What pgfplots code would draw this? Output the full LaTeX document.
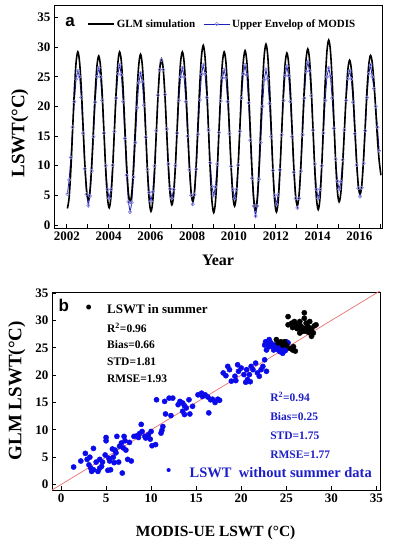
\documentclass[border=0pt]{standalone}
\usepackage{fontspec}
\setmainfont{Liberation Serif}
\newfontfamily\arialfont{Liberation Sans}
\usepackage{pgfplots}
\usepackage{pgfplotstable}
\pgfplotsset{compat=1.18}
\definecolor{modisline}{RGB}{30,30,190}
\definecolor{modismark}{RGB}{140,140,225}
\definecolor{dotblue}{RGB}{10,10,235}
\definecolor{txtblue}{RGB}{30,30,200}
\definecolor{oneline}{RGB}{235,110,110}

\pgfplotstableread{
i glm modis
0 2.8 5.2
1 4.6 7.6
2 9.4 11.4
3 16.0 16.5
4 22.6 20.8
5 27.4 24.6
6 29.2 26.0
7 27.5 25.0
8 23.0 21.5
9 16.8 15.5
10 10.5 9.5
11 6.0 5.2
12 4.3 3.3
13 5.9 4.9
14 10.4 9.1
15 16.4 14.9
16 22.5 20.7
17 26.9 25.0
18 28.5 26.5
19 26.8 25.0
20 22.1 21.0
21 15.7 15.5
22 9.3 10.0
23 4.6 6.0
24 2.9 4.5
25 4.7 6.0
26 9.5 10.1
27 16.1 15.8
28 22.6 21.4
29 27.4 25.5
30 29.2 27.0
31 27.5 25.3
32 22.9 20.8
33 16.5 14.6
34 10.2 8.4
35 5.5 3.9
36 3.8 2.2
37 5.5 3.8
38 10.1 8.1
39 16.3 13.9
40 22.6 19.8
41 27.1 24.0
42 28.8 25.6
43 27.0 24.2
44 22.2 20.2
45 15.6 14.8
46 8.9 9.4
47 4.1 5.5
48 2.3 4.0
49 4.0 5.6
50 8.7 10.0
51 15.2 15.9
52 21.6 21.9
53 26.3 26.2
54 28.0 27.8
55 26.4 26.2
56 21.9 22.0
57 15.7 16.2
58 9.6 10.3
59 5.1 6.1
60 3.4 4.5
61 5.1 6.0
62 9.9 10.0
63 16.3 15.5
64 22.8 21.0
65 27.5 25.0
66 29.2 26.5
67 27.5 25.0
68 22.9 20.8
69 16.6 15.0
70 10.3 9.3
71 5.7 5.0
72 4.0 3.5
73 5.8 5.1
74 10.6 9.4
75 17.2 15.3
76 23.7 21.1
77 28.5 25.4
78 30.3 27.0
79 28.4 25.5
80 23.3 21.5
81 16.2 16.0
82 9.2 10.5
83 4.0 6.5
84 2.1 5.0
85 3.9 6.4
86 8.9 10.3
87 15.7 15.6
88 22.4 20.9
89 27.4 24.8
90 29.2 26.2
91 27.5 24.8
92 22.7 20.8
93 16.2 15.4
94 9.7 9.9
95 4.9 6.0
96 3.2 4.5
97 5.0 6.0
98 9.8 10.1
99 16.3 15.8
100 22.9 21.4
101 27.6 25.5
102 29.4 27.0
103 27.6 25.3
104 22.7 20.6
105 16.0 14.3
106 9.3 7.9
107 4.4 3.2
108 2.6 1.5
109 4.5 3.2
110 9.6 7.7
111 16.6 13.9
112 23.5 20.0
113 28.6 24.5
114 30.5 26.2
115 28.6 24.7
116 23.4 20.5
117 16.4 14.9
118 9.3 9.2
119 4.1 5.0
120 2.2 3.5
121 4.0 5.1
122 8.9 9.3
123 15.6 15.2
124 22.3 21.0
125 27.2 25.2
126 29.0 26.8
127 27.3 25.2
128 22.6 20.8
129 16.2 14.9
130 9.7 8.9
131 5.0 4.5
132 3.3 2.9
133 5.1 4.5
134 9.9 9.1
135 16.5 15.2
136 23.1 21.4
137 27.9 25.9
138 29.7 27.5
139 27.9 26.0
140 22.9 21.8
141 16.2 16.0
142 9.4 10.3
143 4.4 6.0
144 2.6 4.5
145 4.5 6.0
146 9.8 10.0
147 16.9 15.5
148 24.1 21.0
149 29.3 25.0
150 31.2 26.5
151 29.4 25.1
152 24.4 21.4
153 17.6 16.3
154 10.7 11.1
155 5.7 7.4
156 3.9 6.0
157 5.5 7.3
158 9.9 11.0
159 15.9 16.0
160 21.8 21.0
161 26.2 24.7
162 27.8 26.0
163 26.3 24.6
164 22.2 20.7
165 16.5 15.4
166 10.9 10.1
167 6.7 6.2
168 5.2 4.8
169 6.8 6.3
170 11.1 10.4
171 16.9 15.9
172 22.8 21.5
173 27.0 25.5
174 28.6 27.0
175 27.4 25.0
176 24.0 23.0
177 19.5 20.0
178 14.5 16.5
179 10.8 12.5
180 8.4 nan
}\series

\pgfplotstableread{
x y
1.4 3.2
2.2 4.3
2.7 5.7
2.9 4.6
3.1 3.6
3.3 3.0
3.4 2.4
3.6 6.6
3.9 4.1
4.1 2.4
4.3 3.0
4.3 4.6
4.6 4.1
4.9 5.4
5.0 8.6
5.0 8.0
5.2 2.6
5.4 4.3
5.5 2.7
5.7 6.5
5.8 5.0
5.9 4.0
6.1 5.8
6.2 8.8
6.4 4.1
6.5 7.0
6.7 7.6
6.8 2.1
6.9 6.7
7.0 8.8
7.2 6.3
7.4 4.6
7.6 7.7
7.8 4.3
3.2 5.0
4.5 3.3
6.0 6.3
5.3 4.8
3.6 2.7
7.1 8.0
8.1 8.8
8.4 8.9
8.7 9.3
8.9 11.0
9.0 9.7
9.3 8.8
9.4 8.5
9.7 9.1
10.0 9.7
10.1 7.1
10.5 7.3
11.1 9.4
11.3 10.6
11.2 9.9
9.9 8.3
8.6 8.6
10.6 15.5
11.5 15.2
12.0 15.8
12.4 15.8
11.6 12.9
12.2 12.6
13.0 14.6
13.2 15.2
13.5 14.9
13.7 14.4
13.9 14.0
14.2 15.5
13.5 13.4
13.7 12.8
14.3 12.9
14.6 14.3
15.2 16.4
15.6 16.7
15.7 16.1
16.0 16.4
16.3 16.0
16.6 15.5
16.8 15.6
17.1 15.0
17.4 15.6
17.6 15.4
16.4 13.1
18.0 20.4
18.5 21.6
18.7 21.0
18.9 18.9
19.3 19.8
19.6 21.9
19.7 20.7
20.0 21.3
20.3 20.1
20.6 21.0
20.7 19.2
20.9 20.1
21.1 21.6
21.3 21.0
21.6 22.2
21.8 20.4
22.0 19.8
22.4 21.6
22.8 20.7
22.2 21.0
22.6 22.8
20.5 18.7
19.4 19.0
18.3 19.9
21.0 18.8
22.6 25.5
22.7 26.1
22.8 24.6
23.0 25.9
23.1 26.5
23.1 25.2
23.3 25.9
23.5 25.2
23.7 25.5
23.9 24.9
24.1 24.6
24.3 24.3
24.4 24.9
24.6 24.0
24.8 25.2
25.0 26.1
25.2 25.9
24.2 25.6
23.6 24.6
24.9 24.5
}\nonsummer

\pgfplotstableread{
x y
25.2 30.7
27.0 31.4
26.5 29.8
25.9 29.8
26.1 29.2
26.3 28.9
26.7 28.3
26.8 28.0
27.2 29.5
27.4 28.9
27.6 29.8
27.8 28.3
28.1 29.0
28.3 29.2
27.0 30.4
27.2 28.0
27.5 27.8
28.0 27.7
25.6 29.5
25.2 29.2
26.5 27.7
27.8 27.1
23.9 26.5
24.1 25.9
24.4 26.1
24.6 25.5
24.8 26.1
25.0 25.5
25.4 24.9
25.7 24.6
26.0 24.4
25.8 25.2
26.9 28.6
26.6 29.0
27.4 28.3
26.2 28.5
27.6 28.6
25.7 28.7
}\summer

\pgfplotsset{
  mystyle/.style={
    scale only axis,
    tick pos=left, tick align=inside,
    major tick length=4pt, minor tick length=4pt,
    axis line style={line width=0.9pt},
    every tick/.style={black, line width=0.9pt},
    ticklabel style={font=\fontsize{13}{13}\selectfont\bfseries},
    /pgf/number format/assume math mode=true,
  }
}

\begin{document}
\begin{tikzpicture}
\path[use as bounding box] (0pt,0pt) rectangle (392pt,550pt);

\begin{axis}[mystyle,
  at={(54pt,322pt)}, anchor=south west,
  width=328pt, height=223pt,
  xmin=2001.39, xmax=2017.08, ymin=-0.5, ymax=37.1,
  xtick={2002,2004,...,2016}, minor xtick={2003,2005,...,2017},
  ytick={0,5,...,35},
  /pgf/number format/1000 sep={},
  xlabel={Year}, ylabel={LSWT(°C)},
  xlabel style={at={(axis description cs:0.5,-0.147)}, anchor=center, font=\fontsize{16}{16}\selectfont\bfseries},
  ylabel style={at={(axis description cs:-0.104,0.425)}, anchor=center, font=\fontsize{19}{19}\selectfont\bfseries},
  legend style={draw=none, fill=none, at={(0.0915,0.915)}, anchor=west,
    font=\fontsize{11}{11}\selectfont\bfseries,
    /tikz/every even column/.append style={column sep=6pt}},
  legend columns=2,
  legend image code/.code={\draw[mark repeat=2,mark phase=2,#1] plot coordinates {(0pt,0pt) (13pt,0pt) (26pt,0pt)};},
]
\addplot[modisline, line width=0.8pt, mark=o, mark size=1.7pt, mark options={draw=modismark, line width=0.6pt, solid}, forget plot] table[x expr=2002.03+\thisrow{i}/12, y=modis] {\series};
\addplot[black, line width=1.6pt, smooth, no markers] table[x expr=2002.03+\thisrow{i}/12, y=glm] {\series};
\addlegendentry{GLM simulation}
\addlegendimage{modisline, line width=0.8pt, mark=o, mark size=1.7pt, mark options={draw=modismark, line width=0.6pt, solid}}
\addlegendentry{Upper Envelop of MODIS}
\node[font=\arialfont\bfseries\fontsize{17}{17}\selectfont] at (rel axis cs:0.049,0.924) {a};
\end{axis}

\begin{axis}[mystyle,
  at={(52pt,60pt)}, anchor=south west,
  width=328pt, height=198pt,
  xmin=-1, xmax=35.4, ymin=-1, ymax=35.2,
  xtick={0,5,...,35}, ytick={0,5,...,35},
  xlabel={MODIS-UE LSWT (°C)}, ylabel={GLM LSWT(°C)},
  xlabel style={at={(axis description cs:0.499,-0.214)}, anchor=center, font=\fontsize{15.5}{15.5}\selectfont\bfseries},
  ylabel style={at={(axis description cs:-0.1076,0.501)}, anchor=center, font=\fontsize{19}{19}\selectfont\bfseries},
]
\addplot[oneline, line width=0.7pt] coordinates {(-1,-1) (36,36)};
\addplot[only marks, mark=*, mark size=2.6pt, mark options={draw=dotblue, fill=dotblue}] table[x=x, y=y] {\nonsummer};
\addplot[only marks, mark=*, mark size=2.6pt, mark options={draw=black, fill=black}] table[x=x, y=y] {\summer};
\node[font=\arialfont\bfseries\fontsize{17}{17}\selectfont] at (axis cs:0.3,32.7) {b};
\node[font=\fontsize{18}{18}\selectfont\bfseries] at (axis cs:3.07,32.1) {•};
\node[anchor=west, inner sep=0pt, font=\fontsize{13}{13}\selectfont\bfseries] at (axis cs:5.1,32.1) {LSWT in summer};
\begin{scope}[every node/.style={anchor=west, inner sep=0pt, font=\fontsize{11.5}{11.5}\selectfont\bfseries}]
\node at (axis cs:5.1,28.6) {R\textsuperscript{2}=0.96};
\node at (axis cs:5.1,25.5) {Bias=0.66};
\node at (axis cs:5.1,22.5) {STD=1.81};
\node at (axis cs:5.1,19.3) {RMSE=1.93};
\node[text=txtblue] at (axis cs:23.2,16.0) {R\textsuperscript{2}=0.94};
\node[text=txtblue] at (axis cs:23.2,12.5) {Bias=0.25};
\node[text=txtblue] at (axis cs:23.2,8.9) {STD=1.75};
\node[text=txtblue] at (axis cs:23.2,5.5) {RMSE=1.77};
\end{scope}
\node[text=dotblue, font=\fontsize{15}{15}\selectfont\bfseries] at (axis cs:11.96,2.2) {•};
\node[anchor=west, inner sep=0pt, text=txtblue, font=\fontsize{14.5}{14.5}\selectfont\bfseries] at (axis cs:14.26,2.1) {LSWT\ \ without summer data};
\end{axis}
\end{tikzpicture}
\end{document}
